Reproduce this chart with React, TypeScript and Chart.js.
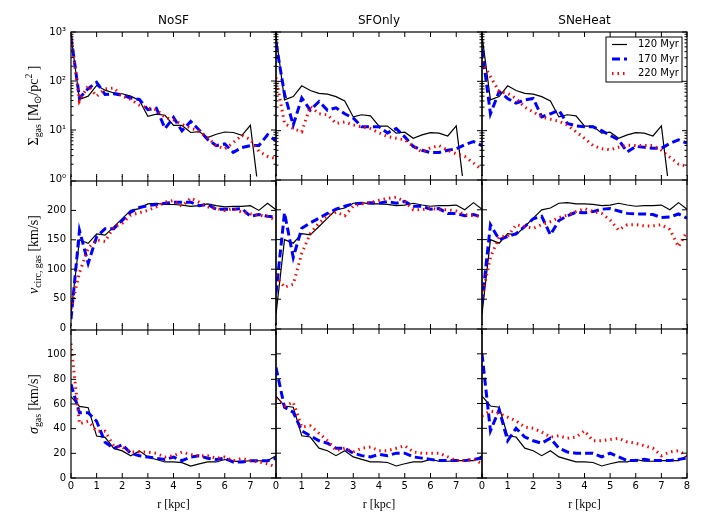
import React, { useEffect, useRef } from "react";
import Chart from "chart.js/auto";

// radial bins [kpc]
const radius = [0, 0.33, 0.67, 1, 1.33, 1.67, 2, 2.33, 2.67, 3, 3.33, 3.67, 4, 4.33, 4.67, 5, 5.33, 5.67, 6, 6.33, 6.67, 7, 7.33, 7.67, 8];
const models = ["NoSF", "SFOnly", "SNeHeat"];
const snapshots = ["120 Myr", "170 Myr", "220 Myr"];

// gas surface density [Msun/pc^2]; 120 Myr is the same state in all runs
const surf120 = [850, 42, 49, 81, 65, 57, 55, 49, 40, 19, 21, 20, 12.4, 12.4, 8.9, 9.3, 7, 8.2, 9.1, 8.9, 7.8, 12.5, 0.5, null, null];
const surfNoSF170 = [800, 45, 70, 94, 53, 55, 51, 45, 42, 26, 28, 10.7, 18, 9.6, 15, 10, 6.4, 4.8, 5.2, 3.5, 4.4, 4.8, 4.8, 8, 6];
const surfNoSF220 = [900, 39, 80, 49, 69, 72, 49, 42, 32, 28, 26, 18, 16, 13, 11, 9.5, 7, 4.8, 4.1, 5.5, 7.8, 6.4, 3.7, 2.9, 2.6];
const surfSF170 = [600, 55, 13, 46, 26, 39, 26, 29, 22, 18, 12, 12, 12, 9, 11, 7.5, 4.8, 4.0, 3.6, 3.6, 4.0, 4.3, 5.2, 6, 5];
const surfSF220 = [120, 14, 11, 9.5, 31, 22, 21, 14, 15, 13, 12, 11, 9, 7.6, 7, 6.5, 4.8, 3.7, 4.5, 5, 4, 3.4, 3, 2.2, 1.6];
const surfSN170 = [450, 22, 62, 45, 36, 42, 45, 19, 22, 26, 14, 12.5, 12, 12, 10, 8, 6.5, 3.7, 4.8, 4.6, 4.4, 4.4, 5.5, 6.5, 5.6];
const surfSN220 = [250, 124, 62, 57, 45, 30, 24, 19, 17, 15.5, 13, 9.5, 7, 5, 4.3, 4.1, 4.6, 5.1, 5, 5, 5, 4, 2.9, 2.1, 1.9];

// circular velocity of the gas [km/s]
const vcirc120 = [25, 150, 144, 160, 158, 172, 186, 200, 203, 211, 212, 210, 210, 209, 207, 208, 211, 208, 206, 207, 207, 208, 200, 212, 201];
const vNoSF170 = [15, 166, 110, 155, 169, 169, 183, 197, 205, 208, 210, 212, 214, 214, 214, 208, 210, 202, 202, 202, 203, 190, 193, 190, 189];
const vNoSF220 = [32, 94, 136, 150, 147, 172, 178, 192, 196, 200, 206, 214, 217, 207, 221, 214, 206, 203, 200, 203, 197, 194, 192, 190, 183];
const vSF170 = [60, 195, 120, 169, 178, 186, 194, 201, 206, 210, 211, 212, 211, 214, 211, 214, 206, 206, 201, 202, 194, 194, 190, 192, 188];
const vSF220 = [90, 70, 75, 127, 160, 178, 190, 196, 190, 206, 210, 212, 216, 219, 221, 214, 200, 200, 203, 200, 200, 198, 192, 190, 189];
const vSN170 = [45, 175, 150, 155, 160, 172, 185, 189, 158, 182, 190, 196, 195, 197, 201, 202, 198, 194, 193, 193, 192, 187, 188, 193, 186];
const vSN220 = [54, 120, 155, 155, 175, 172, 169, 175, 180, 187, 191, 197, 202, 197, 194, 183, 166, 175, 175, 173, 173, 175, 167, 138, 164];

// gas velocity dispersion [km/s]
const sigma120 = [66, 58, 57, 34, 33, 24, 22, 18, 22, 17, 15, 13, 13, 12.5, 9.7, 11.5, 13, 13, 15, 13.5, 13.5, 14, 14, 14, 18];
const sNoSF170 = [76, 53, 53, 46, 29, 24, 27, 20, 18, 17, 16, 15, 17, 14, 17, 18, 16, 15, 16, 13, 13, 14, 14, 14, 16];
const sNoSF220 = [109, 44, 46, 38, 38, 26, 25, 21, 21, 21, 20, 17, 18, 21, 19, 18, 18, 16, 17, 14, 16, 14, 13, 11.5, 9];
const sSF170 = [89, 57, 53, 38, 34, 30, 28, 24, 24, 20, 18, 17, 19, 18, 20, 20, 17, 16, 15, 14, 14, 14, 14, 15, 16];
const sSF220 = [64, 58, 61, 41, 42, 36, 30, 22, 24, 21, 24, 25, 22, 22, 24, 26, 21, 20, 20, 20, 17, 14, 14, 15, 11.5];
const sSN170 = [100, 38, 55, 30, 40, 33, 30, 28, 32, 24, 21, 20, 20, 20, 17, 20, 17, 14, 14, 15, 14, 14, 14, 15, 16];
const sSN220 = [50, 54, 52, 49, 46, 41, 40, 37, 33, 34, 32, 33, 38, 30, 30, 31, 32, 29, 28, 26, 24, 18, 21, 22, 18];

const rTicks = [0, 1, 2, 3, 4, 5, 6, 7, 8];
const surfTicks = [1, 10, 100, 1000];
const vcircTicks = [0, 50, 100, 150, 200, 250];
const sigmaTicks = [0, 20, 40, 60, 80, 100, 120];
// labelled values (the top tick of the linear rows and r = 8 in the first two columns carry no label)
const surfLabels = [1, 10, 100, 1000];
const vcircLabels = [0, 50, 100, 150, 200];
const sigmaLabels = [0, 20, 40, 60, 80, 100];

// rows: quantity, columns: run
const series: (number | null)[][][][] = [
  [[surf120, surfNoSF170, surfNoSF220], [surf120, surfSF170, surfSF220], [surf120, surfSN170, surfSN220]],
  [[vcirc120, vNoSF170, vNoSF220], [vcirc120, vSF170, vSF220], [vcirc120, vSN170, vSN220]],
  [[sigma120, sNoSF170, sNoSF220], [sigma120, sSF170, sSF220], [sigma120, sSN170, sSN220]],
];
const rowTicks = [surfTicks, vcircTicks, sigmaTicks];
const rowLabels = [surfLabels, vcircLabels, sigmaLabels];

const lineStyles = [
  { color: "#000000", width: 1.2, dash: [] as number[] },
  { color: "#0000ff", width: 3, dash: [8, 4] },
  { color: "#ff0000", width: 3, dash: [1.5, 4] },
];

const colEdges = [71, 276, 482, 687];
const rowEdges = [32, 180, 329, 478];
const FONT = "DejaVu Sans";
const MATH = "Liberation Serif";
const SUP = ["⁰", "¹", "²", "³"];

type Piece = { t: string; kind?: "sub" | "sup"; italic?: boolean };
const yLabels: Piece[][] = [
  [{ t: "Σ" }, { t: "gas", kind: "sub" }, { t: " [M" }, { t: "⊙", kind: "sub" }, { t: "/pc" }, { t: "2", kind: "sup" }, { t: " ]" }],
  [{ t: "v", italic: true }, { t: "circ, gas", kind: "sub" }, { t: " [km/s]" }],
  [{ t: "σ", italic: true }, { t: "gas", kind: "sub" }, { t: " [km/s]" }],
];

function drawRich(ctx: CanvasRenderingContext2D, pieces: Piece[], cx: number, cy: number, size: number) {
  const fontFor = (p: Piece) => `${p.italic ? "italic " : ""}${p.kind ? size * 0.7 : size}px "${MATH}"`;
  ctx.save();
  ctx.translate(cx, cy);
  ctx.rotate(-Math.PI / 2);
  ctx.fillStyle = "#000";
  ctx.textAlign = "left";
  ctx.textBaseline = "alphabetic";
  let total = 0;
  const widths = pieces.map((p) => {
    ctx.font = fontFor(p);
    const w = ctx.measureText(p.t).width;
    total += w;
    return w;
  });
  let x = -total / 2;
  pieces.forEach((p, i) => {
    ctx.font = fontFor(p);
    const dy = p.kind === "sub" ? size * 0.25 : p.kind === "sup" ? -size * 0.4 : 0;
    ctx.fillText(p.t, x, dy + size * 0.35);
    x += widths[i];
  });
  ctx.restore();
}

const decor = (row: number, col: number) => ({
  id: "panelDecor",
  afterDraw(chart: any) {
    const { ctx, chartArea: a, scales } = chart;
    const xs = scales.x;
    const ys = scales.y;
    const w = a.right - a.left;
    ctx.save();
    // clean strips along the shared row edges, then redraw frame and ticks there
    ctx.fillStyle = "#fff";
    if (row < 2) ctx.fillRect(a.left, a.bottom - 2.5, w, 6.5);
    if (row > 0) ctx.fillRect(a.left, a.top - 4, w, 6.5);
    ctx.setLineDash([]);
    ctx.strokeStyle = "#000";
    ctx.lineWidth = 1;
    ctx.beginPath();
    for (const v of rTicks) {
      const px = xs.getPixelForValue(v);
      ctx.moveTo(px, a.bottom);
      ctx.lineTo(px, a.bottom - 5);
      ctx.moveTo(px, row > 0 ? a.top - 5 : a.top);
      ctx.lineTo(px, a.top + 5);
    }
    const marks: { v: number; len: number }[] = rowTicks[row].map((v) => ({ v, len: 5 }));
    if (row === 0) {
      surfTicks.slice(0, 3).forEach((d) => {
        for (let k = 2; k < 10; k++) marks.push({ v: k * d, len: 2.5 });
      });
    }
    for (const m of marks) {
      const py = ys.getPixelForValue(m.v);
      ctx.moveTo(a.left, py);
      ctx.lineTo(a.left + m.len, py);
      ctx.moveTo(a.right, py);
      ctx.lineTo(a.right - m.len, py);
    }
    ctx.stroke();
    ctx.lineWidth = 1.2;
    ctx.strokeRect(a.left, a.top, w, a.bottom - a.top);

    ctx.fillStyle = "#000";
    if (row === 0) {
      ctx.font = `12px "${FONT}"`;
      ctx.textAlign = "center";
      ctx.textBaseline = "middle";
      ctx.fillText(models[col], (a.left + a.right) / 2, a.top - 11);
    }
    if (row === 2) {
      ctx.font = `12px "${MATH}"`;
      ctx.textAlign = "center";
      ctx.textBaseline = "middle";
      ctx.fillText("r [kpc]", (a.left + a.right) / 2, a.bottom + 27);
    }
    if (col === 0) {
      drawRich(ctx, yLabels[row], a.left - 38, (a.top + a.bottom) / 2, 14);
    }
    if (row === 0 && col === 2) {
      const bw = 76;
      const bh = 45;
      const bx = a.right - 5 - bw;
      const by = a.top + 5;
      ctx.fillStyle = "#fff";
      ctx.fillRect(bx, by, bw, bh);
      ctx.lineWidth = 1;
      ctx.strokeRect(bx, by, bw, bh);
      ctx.font = `10px "${FONT}"`;
      ctx.textAlign = "left";
      ctx.textBaseline = "middle";
      snapshots.forEach((name, i) => {
        const st = lineStyles[i];
        const ly = by + 7.5 + i * 14.5;
        ctx.strokeStyle = st.color;
        ctx.lineWidth = st.width;
        ctx.setLineDash(st.dash);
        ctx.beginPath();
        ctx.moveTo(bx + 6, ly);
        ctx.lineTo(bx + 21, ly);
        ctx.stroke();
        ctx.setLineDash([]);
        ctx.fillStyle = "#000";
        ctx.fillText(name, bx + 32, ly);
      });
    }
    ctx.restore();
  },
});

const Panel: React.FC<{ row: number; col: number }> = ({ row, col }) => {
  const chartRef = useRef<HTMLCanvasElement>(null);
  // margins round the axes box: every side is taken by its scale box, no extra padding
  const outL = col === 0 ? colEdges[0] : 10;
  const outB = row === 2 ? 531 - rowEdges[3] : 10;
  const outR = 10;
  const outT = row === 0 ? rowEdges[0] : 10;
  const yBand = col === 0 ? 66 : outL;
  const xBand = row === 2 ? 40 : outB;
  const padL = outL - yBand;
  const padB = outB - xBand;
  const left = colEdges[col] - outL;
  const top = rowEdges[row] - outT;
  const width = colEdges[col + 1] - colEdges[col] + outL + outR;
  const height = rowEdges[row + 1] - rowEdges[row] + outT + outB;
  const xLabels = col < 2 ? rTicks.slice(0, 8) : rTicks;
  const noLines = { display: false, drawTicks: false, drawOnChartArea: false };

  useEffect(() => {
    if (!chartRef.current) return;
    const ticksFont = { family: FONT, size: 10 };
    const yLabel = (v: number) => (row === 0 ? "10" + SUP[Math.round(Math.log10(v))] : String(v));
    const chart = new Chart(chartRef.current, {
      type: "line",
      data: {
        datasets: series[row][col].map((vals, i) => ({
          label: snapshots[i],
          data: radius.map((r, k) => ({ x: r, y: vals[k] })),
          borderColor: lineStyles[i].color,
          borderWidth: lineStyles[i].width,
          borderDash: lineStyles[i].dash,
          pointRadius: 0,
          tension: 0,
          fill: false,
          order: 3 - i,
        })),
      },
      options: {
        animation: false,
        responsive: true,
        maintainAspectRatio: false,
        events: [],
        layout: { padding: { left: padL, right: outR, top: outT, bottom: padB } },
        plugins: { legend: { display: false }, tooltip: { enabled: false }, title: { display: false } },
        scales: {
          x: {
            type: "linear",
            min: 0,
            max: 8,
            grid: noLines,
            border: { display: false },
            afterBuildTicks: (s: any) => {
              s.ticks = xLabels.map((v) => ({ value: v }));
            },
            afterFit: (s: any) => {
              s.height = xBand;
            },
            ticks: {
              display: row === 2,
              autoSkip: false,
              maxRotation: 0,
              padding: 2,
              color: "#000",
              font: ticksFont,
              callback: (v: any) => String(v),
            },
          },
          y: {
            type: row === 0 ? "logarithmic" : "linear",
            min: rowTicks[row][0],
            max: rowTicks[row][rowTicks[row].length - 1],
            grid: noLines,
            border: { display: false },
            afterBuildTicks: (s: any) => {
              s.ticks = rowLabels[row].map((v) => ({ value: v }));
            },
            afterFit: (s: any) => {
              s.width = yBand;
            },
            ticks: {
              display: col === 0,
              autoSkip: false,
              padding: 5,
              color: "#000",
              font: ticksFont,
              callback: (v: any) => yLabel(Number(v)),
            },
          },
        },
      } as any,
      plugins: [decor(row, col)],
    });
    return () => {
      chart.destroy();
    };
  }, [row, col]);

  return (
    <div style={{ position: "absolute", left, top, width, height }}>
      <canvas ref={chartRef} />
    </div>
  );
};

const App: React.FC = () => {
  const cells = [];
  for (let r = 0; r < 3; r++) for (let c = 0; c < 3; c++) cells.push(<Panel key={`${r}-${c}`} row={r} col={c} />);
  return (
    <div style={{ position: "fixed", left: 0, top: 0, width: 708, height: 531, background: "#fff", overflow: "hidden" }}>
      {cells}
    </div>
  );
};

export default App;
